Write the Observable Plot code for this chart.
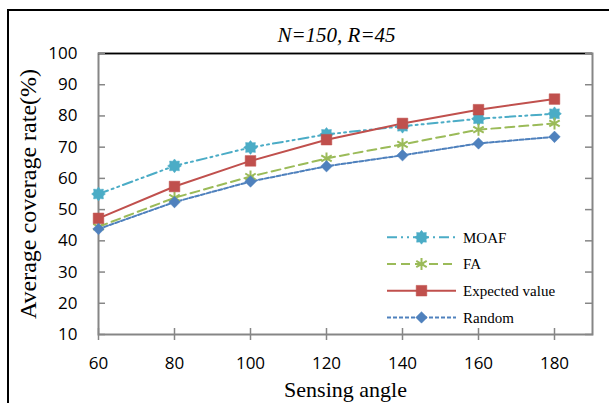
<!DOCTYPE html>
<html><head><meta charset="utf-8">
<script src="https://cdn.jsdelivr.net/npm/d3@7"></script>
<script src="https://cdn.jsdelivr.net/npm/@observablehq/plot@0.6"></script>
<style>
html,body{margin:0;padding:0;background:#fff;}
#wrap{position:relative;width:609px;height:403px;overflow:hidden;}
#outer{position:absolute;left:7px;top:9px;width:700px;height:500px;border-top:2px solid #000;border-left:2px solid #000;pointer-events:none;}
#wrap svg{position:absolute;left:0;top:0;}
</style></head><body><div id="wrap"><div id="outer"></div></div>
<script>
const angles = [60, 80, 100, 120, 140, 160, 180];
const moaf = [55.0, 64.0, 69.9, 74.1, 76.7, 79.1, 80.7];
const fa = [44.5, 53.8, 60.6, 66.4, 70.9, 75.6, 77.6];
const expected = [47.2, 57.4, 65.6, 72.4, 77.6, 82.0, 85.4];
const random = [43.8, 52.4, 59.0, 63.9, 67.4, 71.2, 73.3];
const seriesNames = ["MOAF", "FA", "Expected value", "Random"];
const seriesValues = [moaf, fa, expected, random];
const seriesColors = ["#4BACC6", "#9BBB59", "#C0504D", "#4F81BD"];
const seriesDash = ["10,4,2,4,2,4", "9,5", null, "4,2"];
const xTicks = angles;
const yTicks = [10, 20, 30, 40, 50, 60, 70, 80, 90, 100];
const xDomain = [60, 190];
const yDomain = [10, 100];
const title = "N=150, R=45";
const xLabel = "Sensing angle";
const yLabel = "Average coverage rate(%)";

const star8 = {
  draw(ctx, size) {
    const R = Math.sqrt(size / Math.PI) * 1.1, r0 = R * 0.72;
    for (let i = 0; i < 16; i++) {
      const a = i * Math.PI / 8 - Math.PI / 2, rr = i % 2 ? r0 : R;
      if (i) ctx.lineTo(rr * Math.cos(a), rr * Math.sin(a)); else ctx.moveTo(rr * Math.cos(a), rr * Math.sin(a));
    }
    ctx.closePath();
  }
};
const symbols = [star8, d3.symbolAsterisk, d3.symbolSquare, d3.symbolDiamond2];
const radii = [6.3, 5.7, 6.0, 5.2];
const strokeOnly = [false, true, false, false];

const series = seriesNames.map((name, s) => angles.map((a, i) => ({name, angle: a, value: seriesValues[s][i]})));

const gray = "#868686";
const serif = "Liberation Serif, Times New Roman, serif";
const sans = "Open Sans, Liberation Sans, sans-serif";

const marks = [
  Plot.frame({stroke: gray, strokeWidth: 2}),
  Plot.ruleY([yDomain[1]], {stroke: "#000", strokeWidth: 1.5}),
  Plot.axisY(yTicks, {anchor: "left", tickSize: -7, text: null, label: null, stroke: gray, strokeWidth: 1.5}),
  Plot.axisY(yTicks, {anchor: "right", tickSize: -8, text: null, label: null, stroke: gray, strokeWidth: 1.5}),
  Plot.axisY(yTicks, {anchor: "left", tickSize: 0, tickPadding: 21, fontSize: 17, fontFamily: sans, label: null}),
  Plot.axisX(xTicks, {anchor: "bottom", tickSize: 6, text: null, label: null, stroke: gray, strokeWidth: 1.5}),
  Plot.axisX(xTicks, {anchor: "bottom", tickSize: -6, text: null, label: null, stroke: gray, strokeWidth: 1.5}),
  Plot.axisX(xTicks, {anchor: "bottom", tickSize: 0, tickPadding: 22, fontSize: 17, fontFamily: sans, label: null}),
  Plot.text([title], {text: d => d, frameAnchor: "top", lineAnchor: "middle", textAnchor: "middle", dx: -9, dy: -18, fontSize: 21, fontStyle: "italic", fontFamily: serif}),
  Plot.text([xLabel], {text: d => d, frameAnchor: "bottom", lineAnchor: "middle", textAnchor: "middle", dy: 55, fontSize: 22, fontFamily: serif}),
  Plot.text([yLabel], {text: d => d, frameAnchor: "left", lineAnchor: "middle", textAnchor: "middle", dx: -70, rotate: -90, fontSize: 24, fontFamily: serif})
];
series.forEach((data, s) => {
  marks.push(Plot.line(data, {x: "angle", y: "value", stroke: seriesColors[s], strokeWidth: 2, strokeDasharray: seriesDash[s]}));
});
series.forEach((data, s) => {
  marks.push(Plot.dot(data, {x: "angle", y: "value", symbol: symbols[s], r: radii[s],
    fill: strokeOnly[s] ? "none" : seriesColors[s], stroke: seriesColors[s], strokeWidth: strokeOnly[s] ? 2 : 0.5}));
});

const chart = Plot.plot({
  width: 609, height: 403,
  marginLeft: 98, marginRight: 17, marginTop: 53, marginBottom: 69,
  x: {domain: xDomain},
  y: {domain: yDomain},
  style: {background: "transparent", overflow: "visible"},
  marks
});

const svg = d3.select(chart);
const lg = svg.append("g").attr("text-anchor", "start");
seriesNames.forEach((name, s) => {
  const y = 237.3 + s * 26.7;
  lg.append("line").attr("x1", 387).attr("x2", 456).attr("y1", y).attr("y2", y)
    .attr("stroke", seriesColors[s]).attr("stroke-width", 2).attr("stroke-dasharray", seriesDash[s]);
  lg.append("path").attr("transform", `translate(421.5,${y})`)
    .attr("d", d3.symbol(symbols[s], Math.PI * radii[s] * radii[s])())
    .attr("fill", strokeOnly[s] ? "none" : seriesColors[s]).attr("stroke", seriesColors[s]).attr("stroke-width", strokeOnly[s] ? 2 : 0.5);
  lg.append("text").attr("x", 463).attr("y", y).attr("dy", "0.35em").attr("text-anchor", "start")
    .attr("font-family", serif).attr("font-size", 15).attr("fill", "#000").text(name);
});

document.getElementById("wrap").appendChild(chart);
</script>
</body></html>
